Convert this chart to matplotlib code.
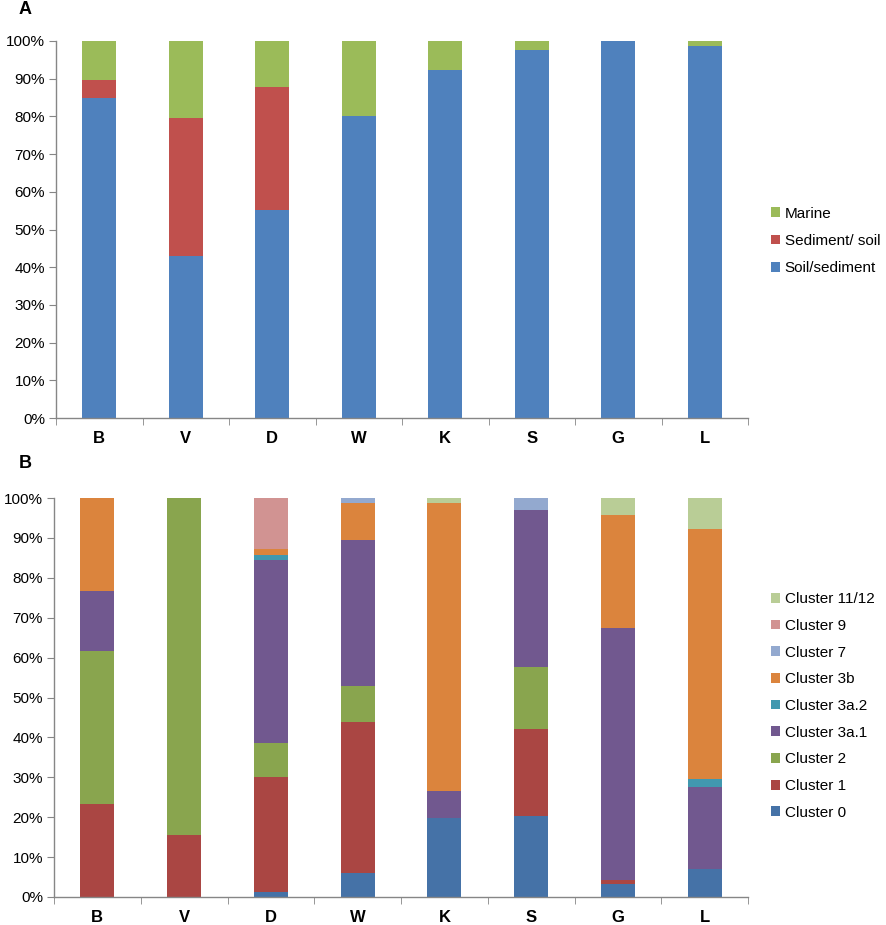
import matplotlib.pyplot as plt
from matplotlib.patches import Patch
from matplotlib.ticker import PercentFormatter
import numpy as np

plt.rcParams['font.family'] = ['Liberation Sans', 'DejaVu Sans']

sites = ['B', 'V', 'D', 'W', 'K', 'S', 'G', 'L']

# panel A: habitat of closest relatives (% of sequences)
soil_sediment = [85.0, 43.0, 55.3, 80.0, 92.3, 97.5, 100.0, 98.7]
sediment_soil = [4.7, 36.6, 32.4, 0.0, 0.0, 0.0, 0.0, 0.0]
marine = [10.3, 20.4, 12.3, 20.0, 7.7, 2.5, 0.0, 1.3]

# panel B: cluster composition (% of sequences)
cluster_0 = [0.0, 0.0, 1.3, 5.9, 19.7, 20.3, 3.2, 6.9]
cluster_1 = [23.4, 15.5, 28.7, 38.0, 0.0, 21.8, 1.0, 0.0]
cluster_2 = [38.3, 84.5, 8.5, 9.1, 0.0, 15.6, 0.0, 0.0]
cluster_3a1 = [14.9, 0.0, 45.9, 36.5, 6.9, 39.2, 63.3, 20.7]
cluster_3a2 = [0.0, 0.0, 1.4, 0.0, 0.0, 0.0, 0.0, 1.9]
cluster_3b = [23.4, 0.0, 1.4, 9.2, 72.2, 0.0, 28.2, 62.7]
cluster_7 = [0.0, 0.0, 0.0, 1.3, 0.0, 3.1, 0.0, 0.0]
cluster_9 = [0.0, 0.0, 12.8, 0.0, 0.0, 0.0, 0.0, 0.0]
cluster_11_12 = [0.0, 0.0, 0.0, 0.0, 1.2, 0.0, 4.3, 7.8]

series_a = [
    ('Soil/sediment', soil_sediment, '#4f81bd'),
    ('Sediment/ soil', sediment_soil, '#c0504d'),
    ('Marine', marine, '#9bbb59'),
]
series_b = [
    ('Cluster 0', cluster_0, '#4572a7'),
    ('Cluster 1', cluster_1, '#aa4643'),
    ('Cluster 2', cluster_2, '#89a54e'),
    ('Cluster 3a.1', cluster_3a1, '#71588f'),
    ('Cluster 3a.2', cluster_3a2, '#4198af'),
    ('Cluster 3b', cluster_3b, '#db843d'),
    ('Cluster 7', cluster_7, '#93a9cf'),
    ('Cluster 9', cluster_9, '#d19392'),
    ('Cluster 11/12', cluster_11_12, '#b9cd96'),
]

W, H = 886, 925
fig = plt.figure(figsize=(W / 100, H / 100), dpi=100)


def px_axes(left, top, right, bottom):
    return fig.add_axes([left / W, 1 - bottom / H, (right - left) / W, (bottom - top) / H])


def stacked(ax, series):
    x = np.arange(len(sites))
    base = np.zeros(len(sites))
    handles = []
    for name, vals, col in series:
        vals = np.array(vals)
        ax.bar(x, vals, 0.39, bottom=base, color=col, edgecolor='none')
        base += vals
        handles.append(Patch(facecolor=col, label=name))
    ax.set_xlim(-0.5, len(sites) - 0.5)
    ax.set_ylim(0, 100)
    ax.set_yticks(np.arange(0, 101, 10))
    ax.yaxis.set_major_formatter(PercentFormatter(decimals=0))
    ax.set_xticks(x)
    ax.set_xticklabels(sites, fontweight='bold', fontsize=12)
    ax.set_xticks(np.arange(-0.5, len(sites)), minor=True)
    ax.tick_params(axis='x', which='major', length=0, pad=9)
    ax.tick_params(axis='x', which='minor', length=5, direction='out', color='#868686')
    ax.tick_params(axis='y', length=5, direction='out', color='#868686', labelsize=11, pad=3)
    for s in ['top', 'right']:
        ax.spines[s].set_visible(False)
    for s in ['left', 'bottom']:
        ax.spines[s].set_color('#868686')
        ax.spines[s].set_linewidth(1)
    return handles


legend_kw = dict(loc='center left', bbox_transform=fig.transFigure, frameon=False,
                 fontsize=11, handlelength=0.6, handleheight=0.6, handletextpad=0.3,
                 borderpad=0, borderaxespad=0)

ax_a = px_axes(56, 41, 748, 418)
h_a = stacked(ax_a, series_a)
ax_a.legend(handles=h_a[::-1], bbox_to_anchor=(771 / W, 1 - 241 / H),
            labelspacing=0.88, **legend_kw)

ax_b = px_axes(54, 498, 748, 897)
h_b = stacked(ax_b, series_b)
ax_b.legend(handles=h_b[::-1], bbox_to_anchor=(771 / W, 1 - 706 / H),
            labelspacing=0.83, **legend_kw)

fig.text(19 / W, 1 - 10 / H, 'A', fontsize=13, fontweight='bold', va='center')
fig.text(19 / W, 1 - 463 / H, 'B', fontsize=13, fontweight='bold', va='center')

fig.savefig('out.png', dpi=100)
